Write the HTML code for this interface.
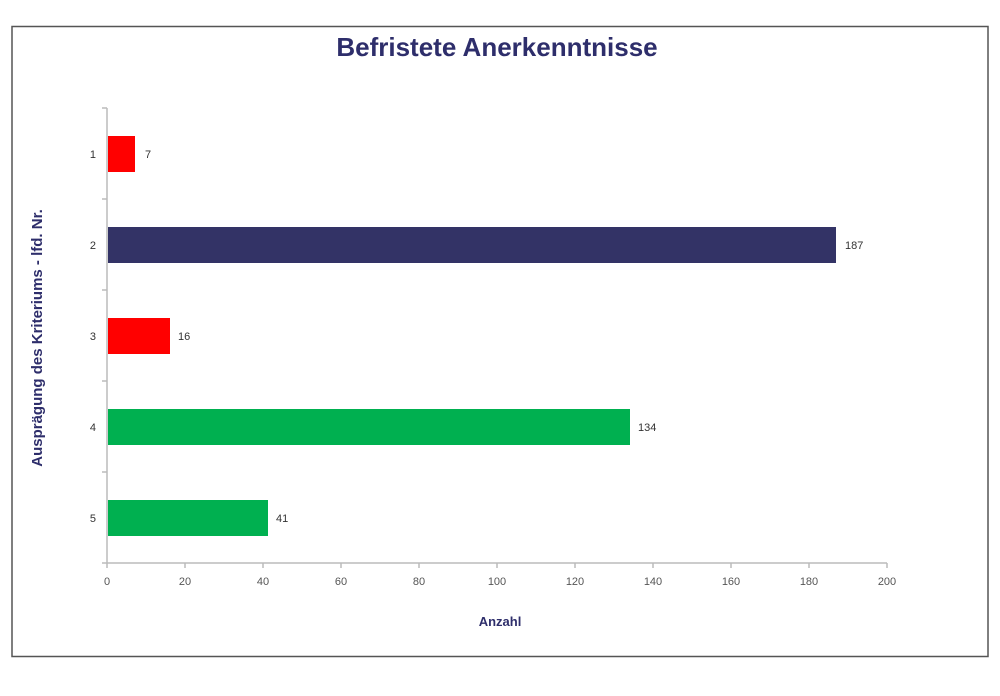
<!DOCTYPE html>
<html><head><meta charset="utf-8"><style>body{margin:0;background:#fff}</style></head><body>
<svg width="1000" height="691" xmlns="http://www.w3.org/2000/svg" font-family="Liberation Sans, sans-serif">
<rect x="0" y="0" width="1000" height="691" fill="#fff"/>
<rect x="12" y="26.5" width="976" height="630" fill="#fff" stroke="#555" stroke-width="1.5"/>
<text x="497" y="56" text-anchor="middle" font-size="26" font-weight="bold" fill="#2e2e6b">Befristete Anerkenntnisse</text>
<g stroke="#bbb" stroke-width="1.5">
<line x1="107" y1="108" x2="107" y2="563"/>
<line x1="107" y1="563" x2="887" y2="563"/>
<line x1="102" y1="108" x2="107" y2="108"/>
<line x1="102" y1="199" x2="107" y2="199"/>
<line x1="102" y1="290" x2="107" y2="290"/>
<line x1="102" y1="381" x2="107" y2="381"/>
<line x1="102" y1="472" x2="107" y2="472"/>
<line x1="102" y1="563" x2="107" y2="563"/>
<line x1="107" y1="563" x2="107" y2="568"/>
<line x1="185" y1="563" x2="185" y2="568"/>
<line x1="263" y1="563" x2="263" y2="568"/>
<line x1="341" y1="563" x2="341" y2="568"/>
<line x1="419" y1="563" x2="419" y2="568"/>
<line x1="497" y1="563" x2="497" y2="568"/>
<line x1="575" y1="563" x2="575" y2="568"/>
<line x1="653" y1="563" x2="653" y2="568"/>
<line x1="731" y1="563" x2="731" y2="568"/>
<line x1="809" y1="563" x2="809" y2="568"/>
<line x1="887" y1="563" x2="887" y2="568"/>
</g>
<rect x="108" y="136" width="27" height="36" fill="#ff0000"/>
<rect x="108" y="227" width="728" height="36" fill="#333366"/>
<rect x="108" y="318" width="62" height="36" fill="#ff0000"/>
<rect x="108" y="409" width="522" height="36" fill="#00b050"/>
<rect x="108" y="500" width="160" height="36" fill="#00b050"/>
<g font-size="11" fill="#333">
<text x="145" y="158">7</text>
<text x="845" y="249">187</text>
<text x="178" y="340">16</text>
<text x="638" y="431">134</text>
<text x="276" y="522">41</text>
<g text-anchor="end"><text x="96" y="158">1</text><text x="96" y="249">2</text><text x="96" y="340">3</text><text x="96" y="431">4</text><text x="96" y="522">5</text></g>
<g text-anchor="middle" fill="#555"><text x="107" y="585">0</text><text x="185" y="585">20</text><text x="263" y="585">40</text><text x="341" y="585">60</text><text x="419" y="585">80</text><text x="497" y="585">100</text><text x="575" y="585">120</text><text x="653" y="585">140</text><text x="731" y="585">160</text><text x="809" y="585">180</text><text x="887" y="585">200</text></g>
</g>
<text x="500" y="626" text-anchor="middle" font-size="13" font-weight="bold" fill="#2e2e6b">Anzahl</text>
<text transform="translate(42,338) rotate(-90)" text-anchor="middle" font-size="15" font-weight="bold" fill="#2e2e6b">Ausprägung des Kriteriums - lfd. Nr.</text>
</svg>
</body></html>
